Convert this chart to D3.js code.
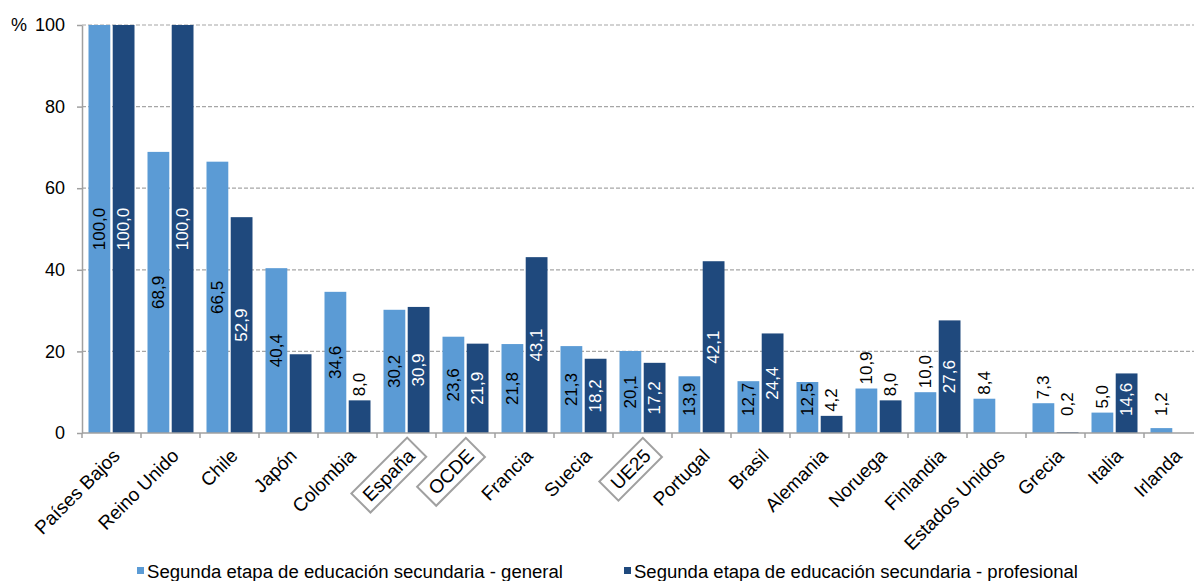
<!DOCTYPE html>
<html>
<head>
<meta charset="utf-8">
<script src="https://cdn.jsdelivr.net/npm/d3@7"></script>
<style>
  body { margin: 0; background: #fff; }
  text { font-family: "Liberation Sans", Arial, sans-serif; fill: #000; }
</style>
</head>
<body>
<svg id="chart"></svg>
<script>
// data
const categories = ["Países Bajos", "Reino Unido", "Chile", "Japón", "Colombia", "España", "OCDE",
  "Francia", "Suecia", "UE25", "Portugal", "Brasil", "Alemania", "Noruega", "Finlandia",
  "Estados Unidos", "Grecia", "Italia", "Irlanda"];
const general = [100.0, 68.9, 66.5, 40.4, 34.6, 30.2, 23.6, 21.8, 21.3, 20.1, 13.9, 12.7, 12.5, 10.9, 10.0, 8.4, 7.3, 5.0, 1.2];
const profesional = [100.0, 100.0, 52.9, 19.3, 8.0, 30.9, 21.9, 43.1, 18.2, 17.2, 42.1, 24.4, 4.2, 8.0, 27.6, null, 0.2, 14.6, null];
const sinEtiqueta = ["Japón"];            // profesional bar shown without its label
const boxed = ["España", "OCDE", "UE25"];
const yTicks = [0, 20, 40, 60, 80, 100];
const seriesNames = ["Segunda etapa de educación secundaria - general",
  "Segunda etapa de educación secundaria - profesional"];
const colors = ["#5B9BD5", "#1F497D"];

{
let W = 1194, H = 581;
let mLeft = 82, mTop = 25, mBottom = 433;

let svg = d3.select("#chart").attr("width", W).attr("height", H);

let x = d3.scaleBand().domain(categories).range([mLeft, mLeft + 59 * categories.length]);
let x1 = d3.scaleBand().domain([0, 1]).range([6.5, 52.5]).paddingInner(0.1);
let y = d3.scaleLinear().domain([0, 100]).range([mBottom, mTop]);

// gridlines
svg.append("g").selectAll("line")
  .data(yTicks.filter(d => d > 0))
  .join("line")
    .attr("x1", mLeft).attr("x2", W)
    .attr("y1", d => y(d)).attr("y2", d => y(d))
    .attr("stroke", "#a6a6a6").attr("stroke-width", 1.2)
    .attr("stroke-dasharray", "4,2");

// bars
let rows = categories.map((c, i) => ({c: c, vals: [general[i], profesional[i]]}));
let groups = svg.append("g").selectAll("g")
  .data(rows)
  .join("g")
    .attr("transform", d => "translate(" + x(d.c) + ",0)");

groups.selectAll("rect")
  .data(d => d.vals.map((v, k) => ({k: k, v: v})).filter(e => e.v != null))
  .join("rect")
    .attr("x", e => x1(e.k))
    .attr("width", x1.bandwidth())
    .attr("y", e => y(e.v))
    .attr("height", e => y(0) - y(e.v))
    .attr("fill", e => colors[e.k]);

// axes
let yAxis = svg.append("g")
  .attr("transform", "translate(" + mLeft + ",0)")
  .call(d3.axisLeft(y).tickValues(yTicks).tickSize(5).tickSizeOuter(0).tickPadding(12));
yAxis.select(".domain").attr("stroke", "#a0a0a0").attr("stroke-width", 1.5);
yAxis.selectAll(".tick line").attr("stroke", "#a0a0a0").attr("stroke-width", 1.5);
yAxis.selectAll(".tick text").style("font-size", "18px")
  .style("font-family", "'Liberation Sans', Arial, sans-serif");

svg.append("text").attr("x", 11).attr("y", 31).style("font-size", "18px").text("%");

svg.append("line")
  .attr("x1", mLeft).attr("x2", W).attr("y1", mBottom).attr("y2", mBottom)
  .attr("stroke", "#a0a0a0").attr("stroke-width", 1.5);
svg.append("g").selectAll("line")
  .data(categories)
  .join("line")
    .attr("x1", d => x(d)).attr("x2", d => x(d))
    .attr("y1", mBottom).attr("y2", mBottom + 5)
    .attr("stroke", "#a0a0a0").attr("stroke-width", 1.5);

// category labels
let labs = svg.append("g").selectAll("g")
  .data(categories)
  .join("g")
    .attr("transform", d => "translate(" + (x(d) + x.bandwidth() / 2) + ",447.5) rotate(-45)");
labs.append("text")
  .attr("text-anchor", "end")
  .attr("dy", "0.71em")
  .style("font-size", "19px")
  .text(d => d);
labs.filter(d => boxed.includes(d)).each(function() {
  let g = d3.select(this);
  let b = g.select("text").node().getBBox();
  g.insert("rect", "text")
    .attr("x", b.x - 7).attr("y", b.y - 3)
    .attr("width", b.width + 14).attr("height", b.height + 6)
    .attr("fill", "#fff").attr("stroke", "#a0a0a0").attr("stroke-width", 2);
});

// value labels
let fmt = v => v.toFixed(1).replace(".", ",");
groups.each(function(d) {
  let g = d3.select(this);
  d.vals.forEach((v, k) => {
    if (v == null) return;
    if (k == 1 && sinEtiqueta.includes(d.c)) return;
    let cx = x1(k) + x1.bandwidth() / 2;
    let t = g.append("text")
      .attr("text-anchor", "middle")
      .attr("dominant-baseline", "central")
      .style("font-size", "17px")
      .text(fmt(v));
    let len = t.node().getComputedTextLength();
    let barTop = y(v), h = y(0) - y(v);
    let outside = h < len + 12;
    let end = outside ? barTop - 4 : (barTop + y(0)) / 2 + len / 2;
    end = Math.min(end, 416);
    let cy = end - len / 2;
    t.attr("transform", "translate(" + cx + "," + cy + ") rotate(-90)")
      .style("fill", (!outside && k == 1) ? "#fff" : "#000");
  });
});

// legend
let legX = [137, 624], legW = [416, 444];
seriesNames.forEach((s, i) => {
  svg.append("rect").attr("x", legX[i]).attr("y", 567).attr("width", 7).attr("height", 7)
    .attr("fill", colors[i]);
  svg.append("text").attr("x", legX[i] + 10).attr("y", 578)
    .style("font-size", "18px")
    .attr("textLength", legW[i]).attr("lengthAdjust", "spacingAndGlyphs")
    .text(s);
});
}
</script>
</body>
</html>
